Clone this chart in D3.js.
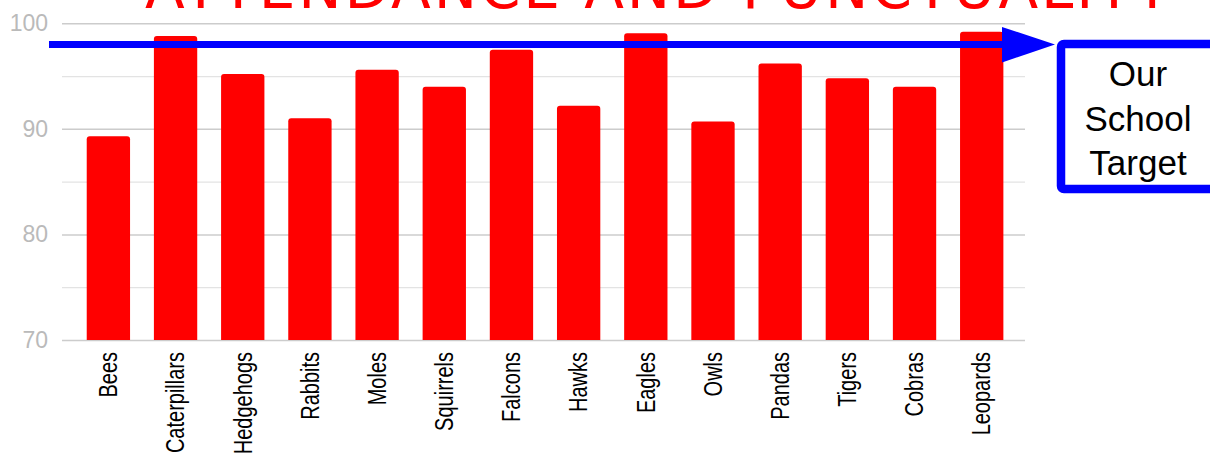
<!DOCTYPE html>
<html>
<head>
<meta charset="utf-8">
<script src="https://cdn.jsdelivr.net/npm/d3@7"></script>
<style>
  body { margin: 0; background: #fff; overflow: hidden; }
  svg { display: block; }
</style>
</head>
<body>
<div id="chart"></div>
<script>
let chart_width = 1210;
let chart_height = 457;

// data
let classes = ["Bees", "Caterpillars", "Hedgehogs", "Rabbits", "Moles", "Squirrels", "Falcons",
  "Hawks", "Eagles", "Owls", "Pandas", "Tigers", "Cobras", "Leopards"];
let attendance = [89.3, 98.8, 95.2, 91.0, 95.6, 94.0, 97.5, 92.2, 99.05, 90.7, 96.2, 94.8, 94.0, 99.2];
let major_ticks = [70, 80, 90, 100];
let minor_ticks = [75, 85, 95];
let target = 98;
let target_label = ["Our", "School", "Target"];
let title = "ATTENDANCE AND PUNCTUALITY";

let svg = d3.select("#chart")
  .append("svg")
  .attr("width", chart_width)
  .attr("height", chart_height);

// scales
let x = d3.scaleBand()
  .domain(classes)
  .range([74.8, 1015.3])
  .paddingInner(0.355)
  .paddingOuter(0.1775);

let y = d3.scaleLinear()
  .domain([70, 100])
  .range([340, 23.3]);

let grid_left = 62;
let grid_right = 1025;

// title, mostly cut off at the top (as in the original)
svg.append("text")
  .attr("x", 145)
  .attr("y", 8)
  .attr("textLength", 1025)
  .attr("lengthAdjust", "spacing")
  .style("font-family", "DejaVu Sans")
  .style("font-size", "58px")
  .style("fill", "#ff0000")
  .text(title);

// minor gridlines (lighter)
svg.append("g")
  .attr("transform", "translate(" + grid_left + ",0)")
  .call(d3.axisLeft(y).tickValues(minor_ticks).tickSize(-(grid_right - grid_left)).tickFormat(""))
  .call(g => g.select(".domain").remove())
  .call(g => g.selectAll("line").attr("stroke", "#e3e3e3").attr("stroke-width", 1.3));

// major gridlines + labels
svg.append("g")
  .attr("transform", "translate(" + grid_left + ",0)")
  .call(d3.axisLeft(y).tickValues(major_ticks).tickSize(-(grid_right - grid_left)).tickPadding(14))
  .call(g => g.select(".domain").remove())
  .call(g => g.selectAll("line").attr("stroke", "#cccccc").attr("stroke-width", 1.5))
  .call(g => g.selectAll("text")
    .attr("fill", "#bababa")
    .style("font-family", "Liberation Sans, Arial, sans-serif")
    .style("font-size", "23px"));

// bars with rounded tops
function bar_path(d, i) {
  let x0 = x(classes[i]);
  let w = x.bandwidth();
  let top = y(d);
  let bottom = y(70);
  let r = 3;
  return "M" + x0 + "," + bottom +
    "V" + (top + r) +
    "Q" + x0 + "," + top + " " + (x0 + r) + "," + top +
    "H" + (x0 + w - r) +
    "Q" + (x0 + w) + "," + top + " " + (x0 + w) + "," + (top + r) +
    "V" + bottom + "Z";
}

svg.append("g")
  .selectAll("path")
  .data(attendance)
  .enter()
  .append("path")
  .attr("d", bar_path)
  .attr("fill", "#ff0000");

// x labels, rotated (a bit stretched sideways like the pasted chart)
svg.append("g")
  .selectAll("text")
  .data(classes)
  .enter()
  .append("text")
  .attr("transform", function (d) {
    return "translate(" + (x(d) + x.bandwidth() / 2) + ",352) scale(1.25,1) rotate(-90)";
  })
  .attr("dy", "0.35em")
  .attr("text-anchor", "end")
  .style("font-family", "Liberation Sans, Arial, sans-serif")
  .style("font-size", "20px")
  .style("fill", "#000")
  .text(d => d);

// target line with arrow
let ty = y(target);
svg.append("line")
  .attr("x1", 49)
  .attr("x2", 1004)
  .attr("y1", ty)
  .attr("y2", ty)
  .attr("stroke", "#0000ff")
  .attr("stroke-width", 7);

svg.append("path")
  .attr("d", "M1002," + (ty - 17.5) + "L1055," + ty + "L1002," + (ty + 18) + "Z")
  .attr("fill", "#0000ff");

// target box
svg.append("rect")
  .attr("x", 1061)
  .attr("y", 44)
  .attr("width", 220)
  .attr("height", 145)
  .attr("rx", 3)
  .attr("fill", "#fff")
  .attr("stroke", "#0000ff")
  .attr("stroke-width", 8.5);

svg.append("g")
  .selectAll("text")
  .data(target_label)
  .enter()
  .append("text")
  .attr("x", 1138)
  .attr("y", (d, i) => 86 + i * 44.5)
  .attr("text-anchor", "middle")
  .style("font-family", "Liberation Sans, Arial, sans-serif")
  .style("font-size", "35px")
  .style("fill", "#000")
  .text(d => d);
</script>
</body>
</html>
